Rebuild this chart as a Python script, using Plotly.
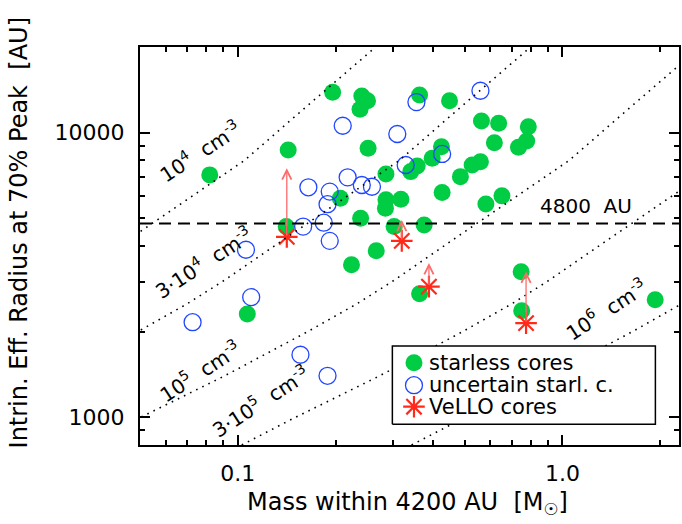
import numpy as np
import plotly.graph_objects as go

# ---------------- data ----------------
starless_mass = [0.082, 0.143, 0.196, 0.241, 0.251, 0.238, 0.363, 0.449, 0.252, 0.286,
                 0.341, 0.357, 0.397, 0.424, 0.207, 0.286, 0.285, 0.318, 0.239, 0.303,
                 0.141, 0.375, 0.267, 0.224, 0.107, 0.363, 0.746, 0.749, 1.93, 0.563,
                 0.636, 0.785, 0.617, 0.776, 0.732, 0.527, 0.559, 0.485, 0.426, 0.651, 0.581]
starless_radius = [7110, 8700, 13860, 13450, 12950, 12080, 13560, 12950, 8820, 7160,
                   7300, 7640, 8130, 8930, 5890, 5810, 5430, 5840, 5010, 4680,
                   4680, 4740, 3850, 3440, 2310, 2720, 3250, 2370, 2590, 10990,
                   10790, 10490, 9220, 9350, 8890, 7700, 7910, 7010, 6160, 6000, 5620]

uncertain_mass = [0.2105, 0.355, 0.559, 0.310, 0.165, 0.192, 0.218, 0.241, 0.259, 0.189,
                  0.184, 0.159, 0.192, 0.329, 0.426, 0.106, 0.110, 0.0726, 0.156, 0.189]
uncertain_radius = [10580, 12810, 14040, 9895, 6430, 6210, 6970, 6550, 6460, 5610,
                    4830, 4680, 4170, 7700, 8420, 3880, 2645, 2160, 1660, 1400]

vello_mass = [0.1416, 0.320, 0.388, 0.7725]
vello_radius = [4305, 4169, 2881, 2144]
vello_radius_upper = [7500, 4939, 3483, 3253]

# other densities scale the mass linearly with n
curve_radius = [800, 1000, 1400, 2000, 2500, 3000, 4200, 6000, 8000, 12000, 16000, 20000]
curve_mass_1e4 = [0.00343, 0.00501, 0.00912, 0.0164, 0.0232, 0.0299, 0.0459, 0.0724,
                  0.105, 0.158, 0.211, 0.266]
densities = [1e4, 3e4, 1e5, 3e5, 1e6]
density_labels = ["10<sup>4</sup>  cm<sup>-3</sup>", "3·10<sup>4</sup>  cm<sup>-3</sup>",
                  "10<sup>5</sup>  cm<sup>-3</sup>", "3·10<sup>5</sup>  cm<sup>-3</sup>",
                  "10<sup>6</sup>  cm<sup>-3</sup>"]

ref_radius = 4800
x_range = [0.05, 2.285]
y_range = [800, 20000]

x_ticks = [0.1, 1.0]
x_ticktext = ["0.1", "1.0"]
x_minor = [0.06, 0.07, 0.08, 0.09, 0.2, 0.3, 0.4, 0.5, 0.6, 0.7, 0.8, 0.9, 2.0]
y_ticks = [1000, 10000]
y_ticktext = ["1000", "10000"]
y_minor = [900, 2000, 3000, 4000, 5000, 6000, 7000, 8000, 9000]

legend_names = ["starless cores", "uncertain starl. c.", "VeLLO cores"]

# ---------------- styles ----------------
FONT = "DejaVu Sans"
GREEN = "#00cc44"
BLUE = "#2146ff"
RED = "#ff2a1a"
ARROW = "#ff6a6a"
MS = 17

fig = go.Figure()

fig.add_trace(go.Scatter(x=starless_mass, y=starless_radius, mode="markers",
                         marker=dict(symbol="circle", size=MS, color=GREEN, line=dict(width=0)),
                         showlegend=False))
fig.add_trace(go.Scatter(x=uncertain_mass, y=uncertain_radius, mode="markers",
                         marker=dict(symbol="circle-open", size=MS, color=BLUE,
                                     line=dict(width=1.3, color=BLUE)),
                         showlegend=False))
fig.add_trace(go.Scatter(x=vello_mass, y=vello_radius, mode="markers",
                         marker=dict(symbol="asterisk-open", size=18, color=RED,
                                     line=dict(width=2.2, color=RED)),
                         showlegend=False))

for n in densities:
    fig.add_trace(go.Scatter(x=[m * n / 1e4 for m in curve_mass_1e4], y=curve_radius,
                             mode="lines", line=dict(color="black", width=1.6, dash="1.6px,5.2px"),
                             showlegend=False, hoverinfo="skip"))

fig.add_trace(go.Scatter(x=x_range, y=[ref_radius, ref_radius], mode="lines",
                         line=dict(color="black", width=2, dash="12px,7px"),
                         showlegend=False, hoverinfo="skip"))

# ---------------- manual legend on an overlay (paper-like) axis ----------------
W, H = 682, 524
ML, MR, MT, MB = 140, 1, 47, 79
PW, PH = W - ML - MR, H - MT - MB


def px2paper(px, py):
    return (px - ML) / PW, (MT + PH - py) / PH


bx0, by0 = px2paper(393.3, 424.3)
bx1, by1 = px2paper(657.3, 346)
fig.add_trace(go.Scatter(x=[bx0, bx1, bx1, bx0, bx0], y=[by0, by0, by1, by1, by0],
                         xaxis="x2", yaxis="y2", mode="lines", fill="toself",
                         fillcolor="white", line=dict(color="black", width=1.5),
                         showlegend=False, hoverinfo="skip"))
row_py = [362.7, 385.2, 406.7]
mx, _ = px2paper(415, 0)
tx, _ = px2paper(428, 0)
row_y = [px2paper(0, p)[1] for p in row_py]
leg_styles = [dict(symbol="circle", size=MS, color=GREEN, line=dict(width=0)),
              dict(symbol="circle-open", size=MS, color=BLUE, line=dict(width=1.3, color=BLUE)),
              dict(symbol="asterisk-open", size=18, color=RED, line=dict(width=2.2, color=RED))]
for ry, st in zip(row_y, leg_styles):
    fig.add_trace(go.Scatter(x=[mx], y=[ry], xaxis="x2", yaxis="y2", mode="markers",
                             marker=st, showlegend=False, hoverinfo="skip"))

annotations = []
for ry, name in zip(row_y, legend_names):
    annotations.append(dict(x=tx, y=ry, xref="paper", yref="paper", text=name,
                             showarrow=False, xanchor="left", yanchor="middle",
                             font=dict(family=FONT, size=21, color="black")))

# arrows for VeLLO upper values
for m, r0, r1 in zip(vello_mass, vello_radius, vello_radius_upper):
    annotations.append(dict(x=np.log10(m), y=np.log10(r1), ax=np.log10(m), ay=np.log10(r0),
                            xref="x", yref="y", axref="x", ayref="y", text="",
                            showarrow=True, arrowhead=5, arrowsize=1.4, arrowwidth=1.3,
                            arrowcolor=ARROW, standoff=0))

# density line labels (paper positions)
label_px = [(200, 151), (204, 262), (200, 371), (261, 401), (608, 308.5)]
for (px, py), txt in zip(label_px, density_labels):
    xp, yp = px2paper(px, py)
    annotations.append(dict(x=xp, y=yp, xref="paper", yref="paper", text=txt,
                            showarrow=False, textangle=-33, xanchor="center", yanchor="middle",
                            font=dict(family=FONT, size=20, color="black")))

xp, yp = px2paper(588, 205.7)
annotations.append(dict(x=xp, y=yp, xref="paper", yref="paper", text="4800  AU",
                        showarrow=False, xanchor="center", yanchor="middle",
                        font=dict(family=FONT, size=20, color="black")))

# axis titles
xp, yp = px2paper(408, 503)
annotations.append(dict(x=xp, y=yp, xref="paper", yref="paper",
                        text="Mass within 4200 AU  [M<sub>☉</sub>]",
                        showarrow=False, xanchor="center", yanchor="middle",
                        font=dict(family=FONT, size=24, color="black")))
xp, yp = px2paper(19, 233)
annotations.append(dict(x=xp, y=yp, xref="paper", yref="paper",
                        text="Intrin. Eff. Radius at 70% Peak  [AU]",
                        showarrow=False, textangle=-90, xanchor="center", yanchor="middle",
                        font=dict(family=FONT, size=24, color="black")))

axis_common = dict(showline=True, linecolor="black", linewidth=2, mirror="ticks",
                   ticks="inside", ticklen=10, tickwidth=1.5, tickcolor="black",
                   showgrid=False, zeroline=False,
                   tickfont=dict(family=FONT, size=22, color="black"))

fig.update_layout(
    width=W, height=H,
    margin=dict(l=ML, r=MR, t=MT, b=MB, pad=0),
    paper_bgcolor="white", plot_bgcolor="white",
    showlegend=False,
    xaxis=dict(type="log", range=[np.log10(x_range[0]), np.log10(x_range[1])],
               tickmode="array", tickvals=x_ticks, ticktext=x_ticktext,
               ticklabelstandoff=8,
               minor=dict(tickmode="array", tickvals=x_minor, ticks="inside", ticklen=5,
                          tickwidth=1.5, tickcolor="black", showgrid=False),
               **axis_common),
    yaxis=dict(type="log", range=[np.log10(y_range[0]), np.log10(y_range[1])],
               tickmode="array", tickvals=y_ticks, ticktext=y_ticktext,
               ticklabelstandoff=9,
               minor=dict(tickmode="array", tickvals=y_minor, ticks="inside", ticklen=5,
                          tickwidth=1.5, tickcolor="black", showgrid=False),
               **axis_common),
    xaxis2=dict(overlaying="x", range=[0, 1], visible=False, fixedrange=True),
    yaxis2=dict(overlaying="y", range=[0, 1], visible=False, fixedrange=True),
    annotations=annotations,
)

fig.write_html("out.html")
